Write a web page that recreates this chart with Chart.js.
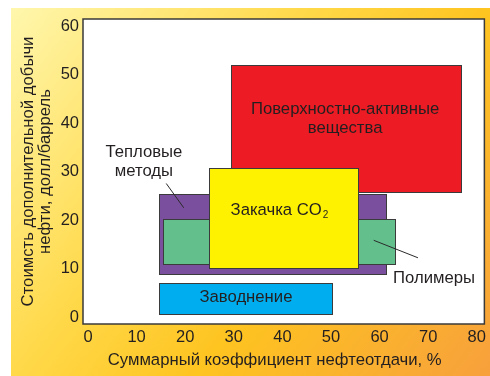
<!DOCTYPE html>
<html>
<head>
<meta charset="utf-8">
<script src="https://cdn.jsdelivr.net/npm/chart.js@4/dist/chart.umd.min.js"></script>
<style>
  html, body { margin: 0; padding: 0; background: #fff; }
  #wrap { width: 490px; height: 376px; }
</style>
</head>
<body>
<div id="wrap"><canvas id="c" width="490" height="376"></canvas></div>
<script>
// Enhanced oil recovery methods: recovery factor range (%) vs. extra production cost ($/bbl)
const methods      = ['Поверхностно-активные вещества', 'Тепловые методы', 'Полимеры', 'Закачка CO2', 'Заводнение'];
const recoveryMin  = [29.5, 14.6, 15.5, 25.0, 14.6];
const recoveryMax  = [77.0, 61.6, 63.4, 55.8, 50.5];
const costMin      = [25.6,  8.7, 10.9,  9.9,  0.5];
const costMax      = [52.0, 25.4, 20.2, 30.8,  7.2];
const methodColors = ['#ed1c24', '#7a4f9e', '#63c08d', '#fff200', '#00aeef'];

const recoveryTicks = [0, 10, 20, 30, 40, 50, 60, 70, 80];
const costTicks     = [0, 10, 20, 30, 40, 50, 60];

const xTitle = 'Суммарный коэффициент нефтеотдачи, %';
const yTitle = ['Стоимсть дополнительной добычи', 'нефти, долл/баррель'];

const FONT = "'Liberation Sans', Arial, Helvetica, sans-serif";
const INK = '#231f20';
const TEXT_SIZE = 16.7;

// text placed in data units (recovery %, cost $/bbl)
const insideLabels = [
  { lines: ['Поверхностно-активные', 'вещества'], x: 52.9, y: 41.0 },
  { lines: ['Заводнение'], x: 32.5, y: 4.15 },
];
const calloutLabels = [
  { lines: ['Тепловые', 'методы'], x: 11.5, y: 32.0, from: [16.1, 27.6], to: [19.7, 22.6] },
  { lines: ['Полимеры'], x: 71.2, y: 8.0, from: [58.8, 15.9], to: [67.9, 12.3] },
];
const co2Label = { text: 'Закачка CO', sub: '2', x: 39.4, y: 22.1 };

const backdrop = {
  id: 'backdrop',
  beforeDraw(chart) {
    const ctx = chart.ctx, a = chart.chartArea;
    ctx.save();
    ctx.fillStyle = '#ffffff';
    ctx.fillRect(0, 0, chart.width, chart.height);
    const g = ctx.createLinearGradient(11, 8, 483, 385);
    g.addColorStop(0.0, '#fff7ad');
    g.addColorStop(0.38, '#ffd94a');
    g.addColorStop(0.62, '#fec420');
    g.addColorStop(1.0, '#f7a03c');
    ctx.fillStyle = g;
    ctx.fillRect(11, 8, chart.width - 11, chart.height - 8);
    ctx.fillStyle = '#ffffff';
    ctx.fillRect(a.left, a.top, a.right - a.left, a.bottom - a.top);
    ctx.restore();
  },
  afterDraw(chart) {
    const ctx = chart.ctx, a = chart.chartArea;
    ctx.save();
    ctx.strokeStyle = '#3a3a3a';
    ctx.lineWidth = 1.5;
    ctx.strokeRect(a.left, a.top, a.right - a.left, a.bottom - a.top);
    // x-axis title
    ctx.fillStyle = INK;
    ctx.font = TEXT_SIZE + 'px ' + FONT;
    ctx.textAlign = 'center';
    ctx.textBaseline = 'middle';
    ctx.fillText(xTitle, 274.7, 360);
    ctx.restore();
  }
};

const ranges = {
  id: 'ranges',
  afterDatasetsDraw(chart) {
    const ctx = chart.ctx, xs = chart.scales.x, ys = chart.scales.y;
    ctx.save();
    for (let i = 0; i < methods.length; i++) {
      const l = Math.round(xs.getPixelForValue(recoveryMin[i]));
      const r = Math.round(xs.getPixelForValue(recoveryMax[i]));
      const t = Math.round(ys.getPixelForValue(costMax[i]));
      const b = Math.round(ys.getPixelForValue(costMin[i]));
      ctx.fillStyle = methodColors[i];
      ctx.fillRect(l, t, r - l, b - t);
      ctx.strokeStyle = '#3b3b3b';
      ctx.lineWidth = 1;
      ctx.strokeRect(l + 0.5, t + 0.5, r - l - 1, b - t - 1);
    }

    ctx.fillStyle = INK;
    ctx.strokeStyle = '#2a2a2a';
    ctx.textAlign = 'center';
    ctx.textBaseline = 'middle';
    ctx.font = TEXT_SIZE + 'px ' + FONT;
    const lh = 19;
    const drawLines = (lbl) => {
      const cx = xs.getPixelForValue(lbl.x), cy = ys.getPixelForValue(lbl.y);
      const y0 = cy - (lbl.lines.length - 1) * lh / 2;
      lbl.lines.forEach((s, k) => ctx.fillText(s, cx, y0 + k * lh));
    };
    insideLabels.forEach(drawLines);
    calloutLabels.forEach(lbl => {
      drawLines(lbl);
      ctx.lineWidth = 1;
      ctx.beginPath();
      ctx.moveTo(xs.getPixelForValue(lbl.from[0]), ys.getPixelForValue(lbl.from[1]));
      ctx.lineTo(xs.getPixelForValue(lbl.to[0]), ys.getPixelForValue(lbl.to[1]));
      ctx.stroke();
    });

    // CO2 with subscript
    const cx = xs.getPixelForValue(co2Label.x), cy = ys.getPixelForValue(co2Label.y);
    ctx.font = TEXT_SIZE + 'px ' + FONT;
    const w1 = ctx.measureText(co2Label.text).width;
    ctx.font = '10px ' + FONT;
    const w2 = ctx.measureText(co2Label.sub).width;
    const x0 = cx - (w1 + w2 + 1) / 2;
    ctx.textAlign = 'left';
    ctx.font = TEXT_SIZE + 'px ' + FONT;
    ctx.fillText(co2Label.text, x0, cy);
    ctx.font = '10px ' + FONT;
    ctx.fillText(co2Label.sub, x0 + w1 + 1, cy + 5);
    ctx.restore();
  }
};

new Chart(document.getElementById('c'), {
  type: 'scatter',
  data: { datasets: [] },
  options: {
    responsive: false,
    animation: false,
    devicePixelRatio: 1,
    layout: { padding: { left: 0, top: 19, right: 4, bottom: 0 } },
    plugins: { legend: { display: false }, tooltip: { enabled: false } },
    scales: {
      x: {
        type: 'linear',
        min: -1.03,
        max: 81.57,
        grid: { display: false, drawTicks: false },
        border: { display: false },
        ticks: { font: { family: FONT, size: 16.5 }, color: INK, padding: 4, maxRotation: 0 },
        afterBuildTicks: s => { s.ticks = recoveryTicks.map(v => ({ value: v })); },
        afterFit: s => { s.height = 52; }
      },
      y: {
        type: 'linear',
        min: -1.34,
        max: 61.48,
        grid: { display: false, drawTicks: false },
        border: { display: false },
        ticks: { font: { family: FONT, size: 16.5 }, color: INK, padding: 4 },
        afterBuildTicks: s => { s.ticks = costTicks.map(v => ({ value: v })); },
        afterFit: s => { s.width = 83; },
        title: {
          display: true,
          text: yTitle,
          color: INK,
          font: { family: FONT, size: TEXT_SIZE, lineHeight: 1.02 },
          padding: { top: 19.5, bottom: 0 }
        }
      }
    }
  },
  plugins: [backdrop, ranges]
});
</script>
</body>
</html>
